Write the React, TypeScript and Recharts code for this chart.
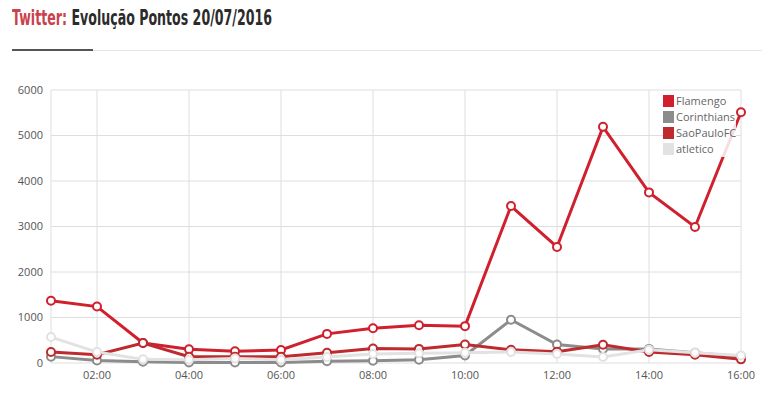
import { LineChart, Line, XAxis, YAxis, CartesianGrid } from "recharts";

const hours = [1, 2, 3, 4, 5, 6, 7, 8, 9, 10, 11, 12, 13, 14, 15, 16];
const flamengo = [1370, 1240, 440, 300, 260, 285, 640, 765, 830, 810, 3450, 2550, 5190, 3750, 2990, 5510];
const corinthians = [140, 55, 30, 10, 10, 10, 40, 50, 70, 165, 950, 405, 310, 310, 225, 140];
const saoPaulo = [240, 180, 440, 140, 140, 140, 225, 320, 310, 405, 290, 250, 400, 240, 180, 80];
const atletico = [570, 240, 80, 70, 100, 70, 130, 200, 215, 225, 240, 200, 130, 290, 225, 165];
const yTicks = [0, 1000, 2000, 3000, 4000, 5000, 6000];
const xTicks = [2, 4, 6, 8, 10, 12, 14, 16];

const series = [
  { key: "Flamengo", color: "#d0202e", values: flamengo },
  { key: "Corinthians", color: "#8c8c8c", values: corinthians },
  { key: "SaoPauloFC", color: "#bf2a2e", values: saoPaulo },
  { key: "atletico", color: "#e2e2e2", values: atletico },
];

const data = hours.map((h, i) => {
  const row: Record<string, number> = { hour: h };
  series.forEach((s) => (row[s.key] = s.values[i]));
  return row;
});

const fmtHour = (h: number) => (h < 10 ? "0" + h : "" + h) + ":00";

function LegendBox() {
  return (
    <div
      style={{
        position: "absolute",
        left: 663,
        top: 93,
        fontFamily: "'Open Sans', sans-serif",
        fontSize: 11,
        color: "#666",
        lineHeight: "16px",
        background: "rgba(255,255,255,0.85)",
      }}
    >
      {series.map((s) => (
        <div key={s.key} style={{ display: "flex", alignItems: "center" }}>
          <span
            style={{
              display: "inline-block",
              width: 11,
              height: 12,
              background: s.color,
              marginRight: 2,
            }}
          />
          {s.key}
        </div>
      ))}
    </div>
  );
}

export default function App() {
  return (
    <div
      style={{
        position: "absolute",
        left: 0,
        top: 0,
        width: 772,
        height: 399,
        background: "#fff",
      }}
    >
      <div
        style={{
          position: "absolute",
          left: 12,
          top: 6,
          fontFamily: "'DejaVu Sans', sans-serif",
          fontWeight: "bold",
          fontSize: 21,
          color: "#2b2b2b",
          whiteSpace: "nowrap",
          transform: "scaleX(0.6)",
          transformOrigin: "left top",
        }}
      >
        <span style={{ color: "#c9434c" }}>Twitter:</span> Evolução Pontos 20/07/2016
      </div>
      <div style={{ position: "absolute", left: 93, top: 50, width: 669, height: 1, background: "#e6e6e6" }} />
      <div style={{ position: "absolute", left: 12, top: 49, width: 81, height: 2, background: "#555" }} />
      <div style={{ position: "absolute", left: 0, top: 0 }}>
        <LineChart
          width={772}
          height={399}
          data={data}
          margin={{ top: 90, right: 31, bottom: 6, left: 11 }}
        >
          <CartesianGrid stroke="#dedede" />
          <XAxis
            dataKey="hour"
            type="number"
            domain={[1, 16]}
            ticks={xTicks}
            tickFormatter={fmtHour}
            axisLine={false}
            tickLine={false}
            height={30}
            tick={{ fill: "#555", fontSize: 11, fontFamily: "'Open Sans', sans-serif" }}
          />
          <YAxis
            domain={[0, 6000]}
            ticks={yTicks}
            axisLine={false}
            tickLine={false}
            width={40}
            tick={{ fill: "#555", fontSize: 11, fontFamily: "'Open Sans', sans-serif" }}
          />
          {series.map((s) => (
            <Line
              key={s.key}
              dataKey={s.key}
              stroke={s.color}
              strokeWidth={3}
              dot={{ r: 4, fill: "#fff", stroke: s.color, strokeWidth: 2 }}
              activeDot={false}
              isAnimationActive={false}
            />
          ))}
        </LineChart>
      </div>
      <LegendBox />
    </div>
  );
}
